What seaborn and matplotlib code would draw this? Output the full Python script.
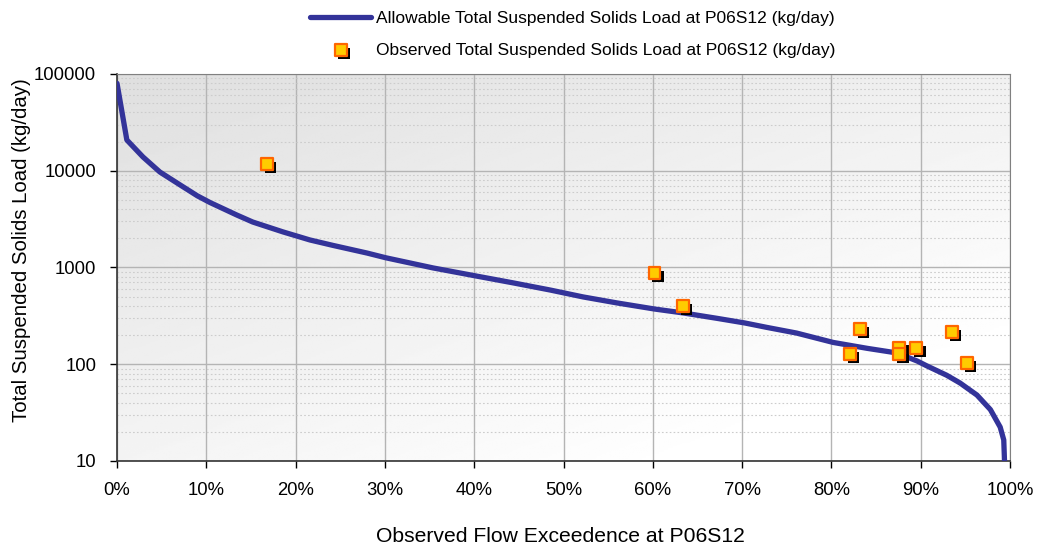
import numpy as np
import pandas as pd
import matplotlib
matplotlib.use("Agg")
import matplotlib.pyplot as plt
import matplotlib.patheffects as pe
from matplotlib.ticker import LogLocator, FuncFormatter, MultipleLocator
import seaborn as sns

# Allowable load curve (flow exceedence fraction vs kg/day)
flow_pct = [0.0, 0.011, 0.029, 0.048, 0.071, 0.090, 0.104, 0.134, 0.152, 0.186,
            0.216, 0.242, 0.280, 0.301, 0.354, 0.402, 0.443, 0.485, 0.522, 0.560,
            0.602, 0.634, 0.672, 0.703, 0.728, 0.761, 0.802, 0.840, 0.873, 0.896,
            0.907, 0.929, 0.944, 0.963, 0.978, 0.989, 0.993, 0.995]
allowable = [80000, 20800, 13900, 9700, 7100, 5500, 4700, 3490, 2950, 2330,
             1925, 1690, 1410, 1260, 989, 817, 695, 585, 496, 430,
             372, 339, 298, 267, 240, 210, 168, 146, 131, 108,
             96, 77, 64, 48, 34, 22.4, 16.5, 5]

# Observed samples
obs_x = [0.168, 0.602, 0.634, 0.821, 0.832, 0.876, 0.876, 0.895, 0.935, 0.952]
obs_y = [11700, 877, 400, 128, 231, 148, 128, 147, 215, 103]

line_label = "Allowable Total Suspended Solids Load at P06S12 (kg/day)"
obs_label = "Observed Total Suspended Solids Load at P06S12 (kg/day)"

sns.set_style("white")
plt.rcParams['font.family'] = ['Liberation Sans', 'DejaVu Sans']
plt.rcParams['text.color'] = 'black'
plt.rcParams['axes.labelcolor'] = 'black'

fig = plt.figure(figsize=(10.42, 5.44), dpi=100)
ax = fig.add_axes([0.1123, 0.1526, 0.857, 0.7114])

# gradient background: light grey upper-left to white lower-right
gx, gy = np.meshgrid(np.linspace(0, 1, 200), np.linspace(0, 1, 200))
shade = 0.875 + 0.125 * np.clip(0.55 * gx + 0.65 * gy, 0, 1)
ax.imshow(shade, cmap="gray", vmin=0, vmax=1, extent=(0, 1, 0, 1),
          transform=ax.transAxes, aspect="auto", zorder=0, origin="upper")

curve = pd.DataFrame({"x": flow_pct, "y": allowable})
obs = pd.DataFrame({"x": obs_x, "y": obs_y})

sns.lineplot(data=curve, x="x", y="y", ax=ax, color="#333399", linewidth=3.8,
             sort=False, estimator=None, label=line_label, zorder=3)
sns.scatterplot(data=obs, x="x", y="y", ax=ax, marker="s", s=70,
                color="#FFCC00", edgecolor="#FF6600", linewidth=1.6,
                label=obs_label, zorder=4,
                path_effects=[pe.SimplePatchShadow(offset=(2.5, -2.5),
                                                   shadow_rgbFace="black", alpha=1),
                              pe.Normal()])

ax.set_yscale("log")
ax.set_xlim(0, 1)
ax.set_ylim(10, 100000)
ax.xaxis.set_major_locator(MultipleLocator(0.1))
ax.xaxis.set_major_formatter(FuncFormatter(lambda v, p: f"{v*100:.0f}%"))
ax.yaxis.set_major_locator(LogLocator(base=10))
ax.yaxis.set_major_formatter(FuncFormatter(lambda v, p: f"{v:.0f}"))
ax.yaxis.set_minor_locator(LogLocator(base=10, subs=np.arange(2, 10)))
ax.yaxis.set_minor_formatter(FuncFormatter(lambda v, p: ""))

ax.grid(which="major", color="#b4b4b4", linewidth=1.0, zorder=1)
ax.grid(which="minor", axis="y", color="#cccccc", linewidth=0.8,
        linestyle=(0, (1.5, 2)), zorder=1)
ax.set_axisbelow(True)

ax.tick_params(axis="both", which="major", labelsize=13.3, length=5, width=1,
               direction="out", colors="black", bottom=True, left=True, pad=10)
ax.tick_params(axis="y", which="minor", length=0)
for side in ["top", "right"]:
    ax.spines[side].set_color("#808080")
for side in ["left", "bottom"]:
    ax.spines[side].set_color("#333333")
    ax.spines[side].set_linewidth(1.2)

ax.set_xlabel("Observed Flow Exceedence at P06S12", fontsize=15.2, labelpad=20)
ax.set_ylabel("Total Suspended Solids Load (kg/day)", fontsize=14.7, labelpad=2)
ax.xaxis.label.set_x(0.496)
ax.yaxis.label.set_y(0.545)

ax.get_legend().remove()
handles, labels = ax.get_legend_handles_labels()
fig.legend(handles, labels, loc="upper center", bbox_to_anchor=(0.55, 1.009),
           frameon=False, fontsize=12.5, handlelength=3.5, handletextpad=0.3,
           labelspacing=0.95)

fig.savefig("out.png", dpi=100)
